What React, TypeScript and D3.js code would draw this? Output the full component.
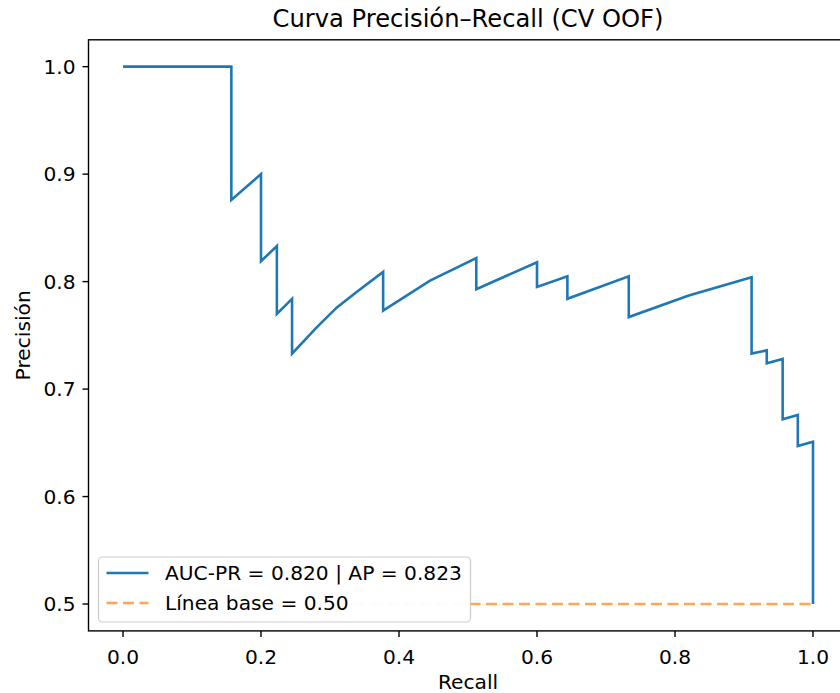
import { useEffect, useRef } from 'react';
import * as d3 from 'd3';

// Curva PR
const recall = [
  0.0, 0.157, 0.157, 0.2, 0.2, 0.223, 0.223, 0.245, 0.245, 0.28, 0.31, 0.34,
  0.377, 0.377, 0.445, 0.512, 0.512, 0.6, 0.6, 0.644, 0.644, 0.733, 0.733,
  0.82, 0.911, 0.911, 0.933, 0.933, 0.956, 0.956, 0.978, 0.978, 1.0, 1.0,
];
const precision = [
  1.0, 1.0, 0.876, 0.9, 0.819, 0.833, 0.77, 0.784, 0.733, 0.757, 0.776, 0.791,
  0.809, 0.773, 0.801, 0.822, 0.793, 0.818, 0.795, 0.805, 0.784, 0.805, 0.767,
  0.787, 0.804, 0.733, 0.736, 0.724, 0.728, 0.672, 0.676, 0.647, 0.651, 0.5,
];
const baseline = 0.5;
const xTicks = [0, 0.2, 0.4, 0.6, 0.8, 1.0];
const yTicks = [0.5, 0.6, 0.7, 0.8, 0.9, 1.0];
const legendLabels = ['AUC-PR = 0.820 | AP = 0.823', 'Línea base = 0.50'];

const W = 840;
const H = 693;
const FONT = 'DejaVu Sans, sans-serif';
const FS = 20.2;

export default function App() {
  const svgRef = useRef<SVGSVGElement>(null);

  useEffect(() => {
    if (!svgRef.current) return;
    const svg = d3.select(svgRef.current);
    svg.selectAll('*').remove();

    const left = 88.5;
    const right = 847.5;
    const top = 39.8;
    const bottom = 630.9;

    const x = d3.scaleLinear().domain([-0.05, 1.05]).range([left, right]);
    const y = d3.scaleLinear().domain([0.475, 1.025]).range([bottom, top]);

    svg.append('rect').attr('width', W).attr('height', H).attr('fill', '#fff');

    // lines
    const pts = recall.map((r, i) => [r, precision[i]] as [number, number]);
    const line = d3.line<[number, number]>().x((d) => x(d[0])).y((d) => y(d[1]));

    svg.append('path')
      .datum(pts)
      .attr('d', line)
      .attr('fill', 'none')
      .attr('stroke', '#1f77b4')
      .attr('stroke-width', 2.6)
      .attr('stroke-linejoin', 'miter');

    svg.append('line')
      .attr('x1', x(0)).attr('x2', x(1))
      .attr('y1', y(baseline)).attr('y2', y(baseline))
      .attr('stroke', '#ff7f0e')
      .attr('stroke-opacity', 0.7)
      .attr('stroke-width', 2.6)
      .attr('stroke-dasharray', '11,5.5');

    // spines
    svg.append('rect')
      .attr('x', left).attr('y', top)
      .attr('width', right - left).attr('height', bottom - top)
      .attr('fill', 'none')
      .attr('stroke', '#000')
      .attr('stroke-width', 1.4);

    // x ticks
    xTicks.forEach((t) => {
      svg.append('line')
        .attr('x1', x(t)).attr('x2', x(t))
        .attr('y1', bottom).attr('y2', bottom + 6)
        .attr('stroke', '#000').attr('stroke-width', 1.4);
      svg.append('text')
        .attr('x', x(t)).attr('y', 664)
        .attr('text-anchor', 'middle')
        .attr('font-family', FONT).attr('font-size', FS)
        .attr('fill', '#000')
        .text(d3.format('.1f')(t));
    });

    // y ticks
    yTicks.forEach((t) => {
      svg.append('line')
        .attr('x1', left - 6).attr('x2', left)
        .attr('y1', y(t)).attr('y2', y(t))
        .attr('stroke', '#000').attr('stroke-width', 1.4);
      svg.append('text')
        .attr('x', left - 13).attr('y', y(t))
        .attr('dy', '0.36em')
        .attr('text-anchor', 'end')
        .attr('font-family', FONT).attr('font-size', FS)
        .attr('fill', '#000')
        .text(d3.format('.1f')(t));
    });

    // labels
    const cx = (left + right) / 2;
    svg.append('text')
      .attr('x', cx).attr('y', 27)
      .attr('text-anchor', 'middle')
      .attr('font-family', FONT).attr('font-size', 24.2)
      .text('Curva Precisión–Recall (CV OOF)');

    svg.append('text')
      .attr('x', cx).attr('y', 689)
      .attr('text-anchor', 'middle')
      .attr('font-family', FONT).attr('font-size', FS)
      .text('Recall');

    svg.append('text')
      .attr('transform', `translate(30,${(top + bottom) / 2}) rotate(-90)`)
      .attr('text-anchor', 'middle')
      .attr('font-family', FONT).attr('font-size', FS)
      .text('Precisión');

    // legend
    const lg = svg.append('g');
    lg.append('rect')
      .attr('x', 98.5).attr('y', 557)
      .attr('width', 372).attr('height', 65)
      .attr('rx', 4)
      .attr('fill', '#fff').attr('fill-opacity', 0.95)
      .attr('stroke', '#cccccc').attr('stroke-width', 1.2);

    const rows = [573, 603];
    lg.append('line')
      .attr('x1', 106.5).attr('x2', 148.5)
      .attr('y1', rows[0]).attr('y2', rows[0])
      .attr('stroke', '#1f77b4').attr('stroke-width', 2.6);
    lg.append('line')
      .attr('x1', 106.5).attr('x2', 148.5)
      .attr('y1', rows[1]).attr('y2', rows[1])
      .attr('stroke', '#ff7f0e').attr('stroke-opacity', 0.7)
      .attr('stroke-width', 2.6).attr('stroke-dasharray', '11,5.5');

    legendLabels.forEach((lab, i) => {
      lg.append('text')
        .attr('x', 165).attr('y', rows[i])
        .attr('dy', '0.36em')
        .attr('font-family', FONT).attr('font-size', FS)
        .attr('fill', '#000')
        .text(lab);
    });
  }, []);

  return (
    <svg
      ref={svgRef}
      width={W}
      height={H}
      style={{ position: 'absolute', left: 0, top: 0, display: 'block' }}
    />
  );
}
